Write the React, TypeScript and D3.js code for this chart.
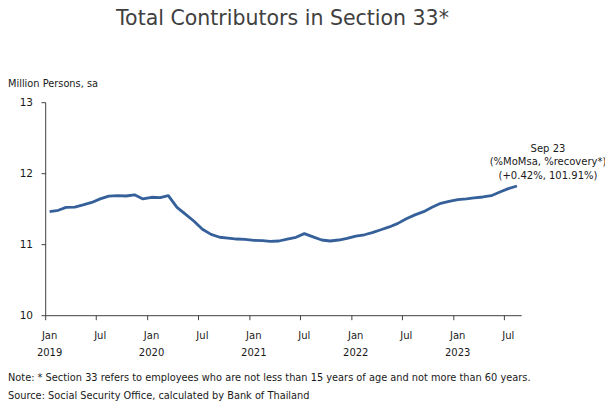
import React from "react";
import * as d3 from "d3";

// Monthly data, plotted mid-month starting Jan 2019
const startYear = 2019;
const values: number[] = [
  11.465, 11.485, 11.525, 11.53, 11.56, 11.595, 11.645, 11.685, 11.69, 11.686, 11.703, 11.645,
  11.668, 11.663, 11.692, 11.525, 11.43, 11.33, 11.218, 11.145, 11.105, 11.092, 11.08, 11.076,
  11.062, 11.056, 11.048, 11.052, 11.08, 11.104, 11.156, 11.11, 11.066, 11.052, 11.066, 11.09,
  11.12, 11.14, 11.17, 11.21, 11.25, 11.3, 11.366, 11.42, 11.465, 11.527, 11.583, 11.61,
  11.634, 11.644, 11.658, 11.672, 11.69, 11.742, 11.79, 11.827,
];
const yTicks = [10, 11, 12, 13];
const xTickMonths = ["Jan", "Jul"];
const years = [2019, 2020, 2021, 2022, 2023];
const title = "Total Contributors in Section 33*";
const yUnit = "Million Persons, sa";
const annotation = ["Sep 23", "(%MoMsa, %recovery*)", "(+0.42%, 101.91%)"];
const notes = [
  "Note: * Section 33 refers to employees who are not less than 15 years of age and not more than 60 years.",
  "Source: Social Security Office, calculated by Bank of Thailand",
];

const FONT = "Tahoma, 'DejaVu Sans', 'Noto Sans', sans-serif";

export default function App() {
  const x = d3
    .scaleTime()
    .domain([new Date(2019, 0, 1), new Date(2023, 8, 1)])
    .range([45.7, 521.7]);
  const y = d3.scaleLinear().domain([10, 13]).range([315.7, 102.7]);

  const pts = values.map((v, i) => ({ d: new Date(startYear, i, 15), v }));
  const line = d3
    .line<{ d: Date; v: number }>()
    .x((p) => x(p.d))
    .y((p) => y(p.v));

  const ticks: { d: Date; label: string; year?: number }[] = [];
  years.forEach((yr) => {
    xTickMonths.forEach((m, k) => {
      const d = new Date(yr, k * 6, 1);
      if (d <= new Date(2023, 8, 1)) ticks.push({ d, label: m, year: k === 0 ? yr : undefined });
    });
  });

  const axisColor = "#404040";
  const textColor = "#1a1a1a";

  return (
    <svg
      width={605}
      height={405}
      style={{ position: "absolute", left: 0, top: 0, background: "#fff" }}
      fontFamily={FONT}
    >
      <rect width={605} height={405} fill="#fff" />
      <text x={282.5} y={25} textAnchor="middle" fontSize={20.5} fill="#404040">
        {title}
      </text>
      <text x={8} y={87} fontSize={9.8} fill={textColor}>
        {yUnit}
      </text>
      {/* y axis */}
      <line x1={45.7} x2={45.7} y1={y(13)} y2={y(10)} stroke={axisColor} strokeWidth={1} />
      {yTicks.map((t) => (
        <g key={t}>
          <line x1={41.5} x2={45.7} y1={y(t)} y2={y(t)} stroke={axisColor} />
          <text x={33} y={y(t)} dy="0.35em" textAnchor="end" fontSize={10.5} fill={textColor}>
            {t}
          </text>
        </g>
      ))}
      {/* x axis */}
      <line x1={45.7} x2={521.7} y1={y(10)} y2={y(10)} stroke={axisColor} />
      {ticks.map((t, i) => {
        const tx = x(t.d);
        const lx = x(new Date(t.d.getFullYear(), t.d.getMonth(), 15));
        return (
          <g key={i}>
            <line x1={tx} x2={tx} y1={y(10)} y2={y(10) + 4.5} stroke={axisColor} />
            <text x={lx} y={335} dy="0.35em" textAnchor="middle" fontSize={10} fill={textColor}>
              {t.label}
            </text>
            {t.year !== undefined && (
              <text x={lx} y={352} dy="0.35em" textAnchor="middle" fontSize={10} fill={textColor}>
                {t.year}
              </text>
            )}
          </g>
        );
      })}
      <path d={line(pts) || ""} fill="none" stroke="#35609a" strokeWidth={2.8} strokeLinejoin="round" />
      {annotation.map((s, i) => (
        <text key={i} x={548} y={148 + i * 13.5} dy="0.35em" textAnchor="middle" fontSize={10} fill={textColor}>
          {s}
        </text>
      ))}
      {notes.map((s, i) => (
        <text key={i} x={8} y={378 + i * 18} dy="0.35em" fontSize={9.8} fill={textColor}>
          {s}
        </text>
      ))}
    </svg>
  );
}
